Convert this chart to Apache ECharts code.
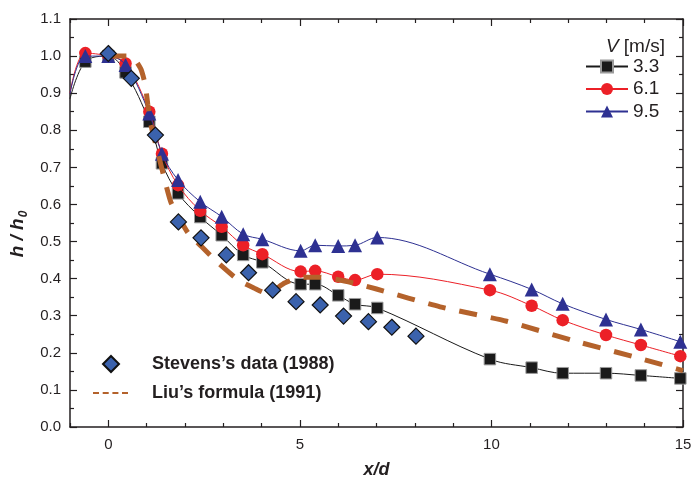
<!DOCTYPE html>
<html>
<head>
<meta charset="utf-8">
<script src="https://cdn.jsdelivr.net/npm/echarts@6/dist/echarts.min.js"></script>
<style>html,body{margin:0;padding:0;background:#fff}#c{width:692px;height:481px}</style>
</head>
<body>
<div id="c"></div>
<script>
// ---- data ----
const xMeas = [-0.6, 0, 0.45, 1.07, 1.4, 1.82, 2.4, 2.96, 3.52, 4.02, 5.02, 5.4, 6.0, 6.44, 7.02, 9.96, 11.05, 11.86, 12.99, 13.9, 14.93];
const v33 = [0.985, 1.0, 0.956, 0.823, 0.711, 0.63, 0.566, 0.517, 0.464, 0.444, 0.385, 0.385, 0.355, 0.331, 0.321, 0.183, 0.16, 0.145, 0.145, 0.139, 0.131];
const v61 = [1.008, 1.0, 0.98, 0.85, 0.737, 0.652, 0.583, 0.54, 0.49, 0.466, 0.419, 0.421, 0.405, 0.396, 0.412, 0.369, 0.327, 0.288, 0.248, 0.221, 0.191];
const v95 = [1.0, 1.0, 0.976, 0.845, 0.737, 0.666, 0.607, 0.567, 0.52, 0.506, 0.475, 0.49, 0.488, 0.49, 0.511, 0.412, 0.371, 0.332, 0.29, 0.263, 0.23];
// fitted curves start at the left edge (x = -1)
const fitStartX = -1;
const fitStart = [0.885, 0.9, 0.898];

const stevensX = [0, 0.6, 1.23, 1.83, 2.42, 3.08, 3.66, 4.29, 4.9, 5.53, 6.14, 6.79, 7.4, 8.03];
const stevensY = [1.007, 0.94, 0.787, 0.553, 0.51, 0.464, 0.416, 0.369, 0.338, 0.329, 0.299, 0.284, 0.269, 0.245];

const liuX = [0, 0.55, 0.7, 0.85, 0.96, 1.03, 1.1, 1.28, 1.45, 1.63, 1.86, 2.09, 2.44, 2.87, 3.4, 3.8, 4.15, 4.6, 5.0, 5.5, 6.0, 6.4, 7.0, 8.66, 10.4, 12.1, 13.87, 15];
const liuY = [1.0, 1.0, 0.99, 0.965, 0.925, 0.87, 0.82, 0.745, 0.675, 0.607, 0.562, 0.522, 0.486, 0.442, 0.396, 0.375, 0.36, 0.388, 0.403, 0.404, 0.397, 0.388, 0.372, 0.324, 0.285, 0.234, 0.185, 0.152];

const seriesNames = ['3.3', '6.1', '9.5'];
const stevensName = 'Stevens’s data (1988)';
const liuName = 'Liu’s formula (1991)';

const xMajor = [0, 5, 10, 15];
const xMinor = [-1, 1, 2, 3, 4, 6, 7, 8, 9, 11, 12, 13, 14];

// ---- build ----
const FONT = '"Liberation Sans", Arial, Helvetica, sans-serif';
const INK = '#231f20';

function fitData(ys, start) {
  const d = [{ value: [fitStartX, start], symbol: 'none' }];
  xMeas.forEach((x, i) => d.push([x, ys[i]]));
  return d;
}
const zip = (xs, ys) => xs.map((x, i) => [x, ys[i]]);

function xAx(pos, ticks, len, showLabel, showLine) {
  return {
    type: 'value', min: -1, max: 15, position: pos,
    axisLine: { show: showLine, onZero: false, lineStyle: { color: INK, width: 1.5 } },
    axisTick: { show: true, inside: true, length: len, customValues: ticks, lineStyle: { color: INK, width: 1.2 } },
    axisLabel: { show: showLabel, customValues: ticks, margin: 10, fontSize: 15, color: INK, fontFamily: FONT },
    splitLine: { show: false }
  };
}
function yAx(pos, showLabel) {
  return {
    type: 'value', min: 0, max: 1.1, interval: 0.1, position: pos,
    axisLine: { show: true, onZero: false, lineStyle: { color: INK, width: 1.5 } },
    axisTick: { show: true, inside: true, length: 7, lineStyle: { color: INK, width: 1.2 } },
    minorTick: { show: true, splitNumber: 2, length: 4, lineStyle: { color: INK, width: 1.2 } },
    axisLabel: { show: showLabel, margin: 9, fontSize: 15, color: INK, fontFamily: FONT, formatter: v => v.toFixed(1) },
    splitLine: { show: false }
  };
}

const xAxes = [
  Object.assign(xAx('bottom', xMajor, 7, true, true), {
    name: 'x/d', nameLocation: 'middle', nameGap: 34,
    nameTextStyle: { fontSize: 18, fontWeight: 'bold', fontStyle: 'italic', color: INK, fontFamily: FONT }
  }),
  xAx('bottom', xMinor, 4, false, false),
  xAx('top', xMajor, 7, false, true),
  xAx('top', xMinor, 4, false, false)
];
const yAxes = [
  Object.assign(yAx('left', true), {
    name: '{a|h / h}{b|0}', nameLocation: 'middle', nameGap: 32, nameRotate: 90,
    nameTextStyle: {
      color: INK, fontFamily: FONT, padding: [0, 22, 0, 0],
      rich: {
        a: { fontSize: 19, fontWeight: 'bold', fontStyle: 'italic', color: INK, fontFamily: FONT },
        b: { fontSize: 12, fontWeight: 'bold', fontStyle: 'italic', color: INK, fontFamily: FONT, padding: [10, 0, 0, 1] }
      }
    }
  }),
  yAx('right', false)
];

const lineColors = ['#1a1a1a', '#ec2027', '#2e3192'];
const symbols = ['rect', 'circle', 'triangle'];
const symSizes = [11.5, 12.5, 14];
const vals = [v33, v61, v95];

const series = vals.map((ys, i) => ({
  name: seriesNames[i], type: 'line', smooth: 0.35,
  xAxisIndex: 0, yAxisIndex: 0,
  data: fitData(ys, fitStart[i]),
  symbol: symbols[i], symbolSize: symSizes[i], showSymbol: true,
  lineStyle: { color: lineColors[i], width: 1 },
  itemStyle: i === 0 ? { color: '#1a1a1a', borderColor: '#9a9a9a', borderWidth: 1 } : { color: lineColors[i] },
  z: 2 + i, emphasis: { disabled: true }, animation: false
}));
series.push({
  name: liuName, type: 'line', smooth: 0.2, symbol: 'none',
  data: zip(liuX, liuY),
  lineStyle: { color: '#b4622b', width: 5, type: [18, 14] },
  itemStyle: { color: '#b4622b' },
  z: 6, emphasis: { disabled: true }, animation: false
});
series.push({
  name: stevensName, type: 'scatter', symbol: 'diamond', symbolSize: 16,
  data: zip(stevensX, stevensY),
  itemStyle: { color: '#3b62ad', borderColor: '#111', borderWidth: 1.2, opacity: 1 },
  z: 7, emphasis: { disabled: true }, animation: false
});

const chart = echarts.init(document.getElementById('c'), null, { renderer: 'canvas' });
chart.setOption({
  animation: false,
  backgroundColor: '#fff',
  grid: { left: 70, right: 9, top: 19, bottom: 54, containLabel: false, outerBoundsMode: 'none' },
  title: {
    text: '{i|V} [m/s]', right: 22, top: 32,
    textStyle: { rich: { i: { fontStyle: 'italic', fontSize: 19, color: INK, fontFamily: FONT } }, fontSize: 19, fontWeight: 'normal', color: INK, fontFamily: FONT }
  },
  legend: [
    {
      data: seriesNames, orient: 'vertical', left: 585, top: 57, padding: 0,
      itemWidth: 42, itemHeight: 15, itemGap: 3.5,
      textStyle: { fontSize: 19, color: INK, fontFamily: FONT, lineHeight: 19 },
      selectedMode: false
    },
    {
      data: [{ name: stevensName, icon: 'diamond' }], left: 102, top: 355, padding: 0,
      itemWidth: 16, itemHeight: 16,
      textStyle: { fontSize: 18, fontWeight: 'bold', color: INK, fontFamily: FONT, padding: [0, 0, 0, 28] },
      selectedMode: false
    },
    {
      data: [{ name: liuName, icon: 'path://M0,0h6v2h-6z M9.7,0h6v2h-6z M19.4,0h6v2h-6z M29,0h6v2h-6z' }],
      left: 93, top: 384, padding: 0,
      itemWidth: 35, itemHeight: 2,
      textStyle: { fontSize: 18, fontWeight: 'bold', color: INK, fontFamily: FONT, padding: [0, 0, 0, 19] },
      selectedMode: false
    }
  ],
  xAxis: xAxes,
  yAxis: yAxes,
  series: series
});
</script>
</body>
</html>
